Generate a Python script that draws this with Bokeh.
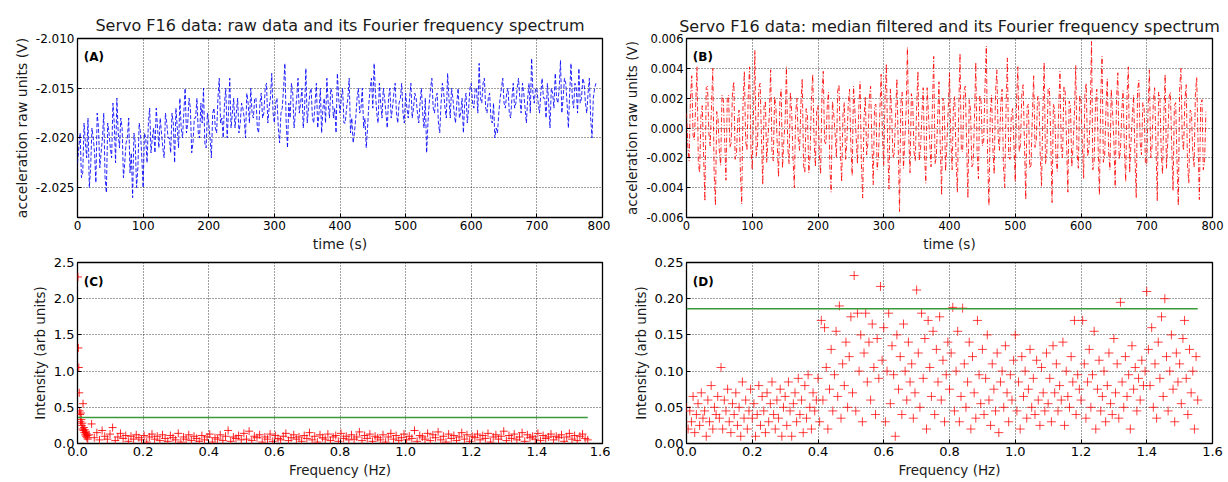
import numpy as np
from bokeh.plotting import figure
from bokeh.layouts import column, row
from bokeh.models import Range1d, FixedTicker, NumeralTickFormatter, Label
from bokeh.embed import file_html
from bokeh.resources import INLINE

FONT = "DejaVu Sans"

# ---------------- data ----------------
time_step = 2.0  # s between plotted samples

# raw signal, samples at t = 0, 4, 8, ... s
raw_signal_even = [
    -2.0225, -2.0195, -2.0235, -2.0205, -2.0180, -2.0230, -2.0200, -2.0245, -2.0190, -2.0215,
    -2.0175, -2.0255, -2.0195, -2.0220, -2.0185, -2.0160, -2.0210, -2.0190, -2.0225, -2.0200,
    -2.0235, -2.0260, -2.0205, -2.0230, -2.0195,
    -2.0250, -2.0200, -2.0185, -2.0215, -2.0190, -2.0170, -2.0210, -2.0195, -2.0220, -2.0185,
    -2.0200, -2.0175, -2.0225, -2.0190, -2.0160, -2.0200, -2.0150, -2.0185, -2.0170, -2.0205,
    -2.0180, -2.0195, -2.0165, -2.0150, -2.0210,
    -2.0185, -2.0220, -2.0170, -2.0195, -2.0140, -2.0180, -2.0165, -2.0200, -2.0140, -2.0175,
    -2.0190, -2.0160, -2.0185, -2.0170, -2.0200, -2.0165, -2.0150, -2.0180, -2.0160, -2.0195,
    -2.0155, -2.0175, -2.0145, -2.0170, -2.0135,
    -2.0185, -2.0160, -2.0205, -2.0170, -2.0125, -2.0210, -2.0180, -2.0155, -2.0175, -2.0140,
    -2.0165, -2.0190, -2.0130, -2.0170, -2.0150, -2.0185, -2.0145, -2.0175, -2.0195, -2.0160,
    -2.0140, -2.0180, -2.0155, -2.0170, -2.0135,
    -2.0175, -2.0150, -2.0185, -2.0160, -2.0195, -2.0205, -2.0180, -2.0150, -2.0170, -2.0190,
    -2.0210, -2.0165, -2.0140, -2.0125, -2.0175, -2.0145, -2.0180, -2.0160, -2.0190, -2.0150,
    -2.0170, -2.0145, -2.0185, -2.0160, -2.0175,
    -2.0155, -2.0180, -2.0145, -2.0170, -2.0160, -2.0185, -2.0150, -2.0190, -2.0215, -2.0165,
    -2.0140, -2.0175, -2.0155, -2.0195, -2.0145, -2.0170, -2.0135, -2.0180, -2.0160, -2.0185,
    -2.0150, -2.0175, -2.0195, -2.0155, -2.0170,
    -2.0145, -2.0170, -2.0150, -2.0125, -2.0165, -2.0140, -2.0175, -2.0155, -2.0185, -2.0200,
    -2.0195, -2.0160, -2.0140, -2.0170, -2.0150, -2.0180, -2.0145, -2.0165, -2.0140, -2.0175,
    -2.0155, -2.0185, -2.0145, -2.0120, -2.0165,
    -2.0150, -2.0175, -2.0140, -2.0160, -2.0145, -2.0190, -2.0155, -2.0135, -2.0165, -2.0122,
    -2.0160, -2.0145, -2.0190, -2.0125, -2.0170, -2.0150, -2.0130, -2.0160, -2.0145, -2.0175,
    -2.0140, -2.0200, -2.0150,
]
# raw signal, samples at t = 2, 6, 10, ... s
raw_signal_odd = [
    -2.0210, -2.0240, -2.0185, -2.0220, -2.0250, -2.0190, -2.0215, -2.0175, -2.0230, -2.0200,
    -2.0240, -2.0185, -2.0210, -2.0165, -2.0225, -2.0195, -2.0180, -2.0240, -2.0205, -2.0180,
    -2.0215, -2.0195, -2.0250, -2.0185, -2.0220,
    -2.0195, -2.0225, -2.0170, -2.0200, -2.0215, -2.0190, -2.0180, -2.0210, -2.0175, -2.0200,
    -2.0215, -2.0185, -2.0170, -2.0210, -2.0190, -2.0175, -2.0195, -2.0160, -2.0215, -2.0180,
    -2.0160, -2.0200, -2.0185, -2.0205, -2.0175,
    -2.0200, -2.0175, -2.0190, -2.0160, -2.0185, -2.0200, -2.0150, -2.0175, -2.0190, -2.0160,
    -2.0175, -2.0195, -2.0165, -2.0180, -2.0155, -2.0185, -2.0175, -2.0160, -2.0190, -2.0165,
    -2.0180, -2.0150, -2.0185, -2.0160, -2.0175,
    -2.0165, -2.0190, -2.0175, -2.0150, -2.0185, -2.0165, -2.0145, -2.0190, -2.0160, -2.0175,
    -2.0150, -2.0170, -2.0185, -2.0155, -2.0180, -2.0165, -2.0190, -2.0150, -2.0170, -2.0185,
    -2.0165, -2.0150, -2.0180, -2.0195, -2.0160,
    -2.0160, -2.0185, -2.0170, -2.0140, -2.0180, -2.0195, -2.0160, -2.0175, -2.0150, -2.0180,
    -2.0190, -2.0150, -2.0170, -2.0155, -2.0185, -2.0165, -2.0150, -2.0175, -2.0160, -2.0180,
    -2.0155, -2.0175, -2.0165, -2.0145, -2.0185,
    -2.0170, -2.0160, -2.0180, -2.0155, -2.0175, -2.0165, -2.0175, -2.0160, -2.0185, -2.0150,
    -2.0170, -2.0160, -2.0185, -2.0165, -2.0155, -2.0180, -2.0160, -2.0150, -2.0175, -2.0165,
    -2.0180, -2.0160, -2.0165, -2.0185, -2.0150,
    -2.0165, -2.0150, -2.0175, -2.0160, -2.0145, -2.0170, -2.0160, -2.0180, -2.0165, -2.0190,
    -2.0175, -2.0150, -2.0165, -2.0155, -2.0175, -2.0160, -2.0170, -2.0150, -2.0160, -2.0145,
    -2.0170, -2.0160, -2.0175, -2.0155, -2.0150,
    -2.0165, -2.0155, -2.0160, -2.0180, -2.0165, -2.0150, -2.0170, -2.0160, -2.0150, -2.0175,
    -2.0140, -2.0165, -2.0155, -2.0160, -2.0145, -2.0175, -2.0165, -2.0140, -2.0165, -2.0155,
    -2.0180, -2.0160, -2.0145,
]

# median-filtered signal, samples at t = 0, 4, 8, ... s
filtered_signal_even = [
    0.0010, -0.0022, 0.0035, -0.0008, 0.0041, -0.0030, 0.0015, -0.0049, 0.0028, -0.0012,
    0.0040, -0.0052, 0.0006, -0.0025, 0.0019, -0.0035, 0.0022, -0.0010, 0.0031, -0.0018,
    0.0012, -0.0051, 0.0038, -0.0015, 0.0041,
    -0.0028, 0.0052, -0.0012, 0.0030, -0.0038, 0.0018, -0.0006, 0.0039, -0.0022, 0.0014,
    -0.0033, 0.0026, -0.0009, 0.0041, -0.0024, 0.0011, -0.0040, 0.0020, -0.0015, 0.0033,
    -0.0030, 0.0008, -0.0018, 0.0036, -0.0026,
    0.0015, -0.0031, 0.0038, -0.0011, 0.0024, -0.0043, 0.0009, -0.0020, 0.0029, -0.0036,
    0.0017, -0.0008, 0.0026, -0.0032, 0.0013, -0.0024, 0.0031, -0.0047, 0.0021, -0.0010,
    0.0028, -0.0038, 0.0016, -0.0019, 0.0036,
    -0.0025, 0.0043, -0.0041, 0.0012, -0.0017, 0.0033, -0.0056, 0.0024, -0.0009, 0.0054,
    -0.0030, 0.0018, -0.0022, 0.0038, -0.0014, 0.0027, -0.0037, 0.0010, -0.0026, 0.0048,
    -0.0019, 0.0031, -0.0045, 0.0016, -0.0011,
    0.0037, -0.0028, 0.0021, -0.0043, 0.0050, -0.0016, 0.0028, -0.0047, 0.0012, -0.0024,
    0.0044, -0.0034, 0.0018, -0.0009, 0.0055, -0.0052, 0.0022, -0.0031, 0.0039, -0.0015,
    0.0026, -0.0040, 0.0047, -0.0021, 0.0013,
    -0.0036, 0.0041, -0.0011, 0.0029, -0.0048, 0.0016, -0.0025, 0.0035, -0.0008, 0.0021,
    -0.0039, 0.0044, -0.0017, 0.0027, -0.0050, 0.0012, -0.0029, 0.0038, -0.0020, 0.0024,
    -0.0043, 0.0015, -0.0012, 0.0042, -0.0027,
    0.0018, -0.0034, 0.0030, -0.0014, 0.0058, -0.0022, 0.0026, -0.0045, 0.0048, -0.0019,
    0.0033, -0.0028, 0.0011, -0.0040, 0.0037, -0.0016, 0.0025, -0.0036, 0.0041, -0.0010,
    0.0022, -0.0047, 0.0032, -0.0018, 0.0014,
    -0.0025, 0.0039, -0.0013, 0.0027, -0.0049, 0.0021, -0.0031, 0.0036, -0.0009, 0.0024,
    -0.0042, 0.0017, -0.0052, 0.0040, -0.0015, 0.0029, -0.0037, 0.0011, -0.0026, 0.0034,
    -0.0048, 0.0019, -0.0022,
]
# median-filtered signal, samples at t = 2, 6, 10, ... s
filtered_signal_odd = [
    -0.0012, 0.0020, -0.0005, 0.0016, -0.0024, 0.0008, -0.0018, 0.0027, -0.0003, 0.0014,
    -0.0029, 0.0011, -0.0016, 0.0022, -0.0007, 0.0019, -0.0013, 0.0025, -0.0021, 0.0006,
    -0.0030, 0.0017, -0.0009, 0.0023, -0.0014,
    0.0012, -0.0019, 0.0027, -0.0006, 0.0015, -0.0023, 0.0009, -0.0016, 0.0021, -0.0011,
    0.0018, -0.0027, 0.0005, -0.0013, 0.0024, -0.0020, 0.0010, -0.0008, 0.0016, -0.0025,
    0.0013, -0.0030, 0.0019, -0.0007, 0.0011,
    -0.0017, 0.0022, -0.0009, 0.0014, -0.0026, 0.0018, -0.0004, 0.0025, -0.0015, 0.0009,
    -0.0021, 0.0016, -0.0012, 0.0028, -0.0006, 0.0013, -0.0024, 0.0007, -0.0018, 0.0020,
    -0.0011, 0.0015, -0.0028, 0.0010, -0.0005,
    0.0021, -0.0014, 0.0026, -0.0020, 0.0008, -0.0012, 0.0017, -0.0027, 0.0011, -0.0005,
    0.0023, -0.0016, 0.0014, -0.0022, 0.0009, -0.0018, 0.0027, -0.0010, 0.0015, -0.0024,
    0.0006, -0.0013, 0.0020, -0.0029, 0.0012,
    -0.0008, 0.0016, -0.0022, 0.0011, -0.0015, 0.0025, -0.0009, 0.0019, -0.0026, 0.0007,
    -0.0017, 0.0022, -0.0012, 0.0028, -0.0020, 0.0010, -0.0014, 0.0024, -0.0006, 0.0017,
    -0.0025, 0.0013, -0.0019, 0.0009, -0.0011,
    0.0019, -0.0016, 0.0023, -0.0010, 0.0014, -0.0027, 0.0008, -0.0013, 0.0021, -0.0018,
    0.0011, -0.0024, 0.0026, -0.0007, 0.0016, -0.0021, 0.0012, -0.0015, 0.0028, -0.0009,
    0.0018, -0.0026, 0.0010, -0.0017, 0.0022,
    -0.0011, 0.0024, -0.0019, 0.0009, -0.0028, 0.0015, -0.0012, 0.0020, -0.0023, 0.0013,
    -0.0016, 0.0026, -0.0008, 0.0019, -0.0021, 0.0011, -0.0014, 0.0022, -0.0030, 0.0007,
    -0.0018, 0.0025, -0.0010, 0.0017, -0.0024,
    0.0013, -0.0020, 0.0018, -0.0011, 0.0024, -0.0016, 0.0009, -0.0027, 0.0021, -0.0013,
    0.0015, -0.0022, 0.0026, -0.0008, 0.0019, -0.0025, 0.0012, -0.0017, 0.0023, -0.0010,
    0.0016, -0.0028, 0.0011,
]

# spectrum of the raw data: low-frequency part
raw_spec_freq_low = [0.0013, 0.0026, 0.0039, 0.0052, 0.0065, 0.0078, 0.0091, 0.0104,
                     0.0117, 0.0130, 0.0143, 0.0156, 0.0169, 0.0182, 0.0195, 0.0208,
                     0.0221, 0.0234, 0.0247, 0.0260, 0.0273, 0.0286, 0.0299, 0.0312]
raw_spec_int_low = [2.30, 1.32, 1.05, 0.70, 0.45, 0.40, 0.30, 0.42, 0.33, 0.25, 0.28, 0.20,
                    0.55, 0.18, 0.22, 0.15, 0.19, 0.12, 0.16, 0.10, 0.14, 0.08, 0.11, 0.06]
# rest of the spectrum, from 0.035 Hz in 0.008 Hz steps
raw_spec_start, raw_spec_step = 0.035, 0.008
raw_spec_int_high = [
    0.12, 0.27, 0.08, 0.15, 0.05, 0.18, 0.10, 0.06, 0.13, 0.22, 0.04, 0.09, 0.14, 0.07, 0.11, 0.03, 0.10, 0.06, 0.12, 0.08,
    0.05, 0.11, 0.02, 0.09, 0.13, 0.06, 0.10, 0.04, 0.12, 0.07, 0.03, 0.11, 0.08, 0.05, 0.14, 0.02, 0.09, 0.06, 0.12, 0.04,
    0.10, 0.07, 0.03, 0.11, 0.05, 0.09, 0.13, 0.02, 0.08, 0.06, 0.12, 0.04, 0.10, 0.18, 0.03, 0.09, 0.07, 0.11, 0.05, 0.14,
    0.06, 0.17, 0.04, 0.10, 0.08, 0.12, 0.02, 0.09, 0.06, 0.13, 0.03, 0.11, 0.07, 0.05, 0.10, 0.14, 0.04, 0.08, 0.12, 0.06,
    0.09, 0.03, 0.11, 0.07, 0.15, 0.05, 0.10, 0.02, 0.12, 0.08, 0.06, 0.13, 0.04, 0.09, 0.11, 0.03, 0.14, 0.07, 0.10, 0.05,
    0.12, 0.06, 0.09, 0.16, 0.04, 0.11, 0.07, 0.13, 0.03, 0.10, 0.08, 0.05, 0.12, 0.02, 0.09, 0.14, 0.06, 0.11, 0.04, 0.08,
    0.13, 0.05, 0.10, 0.07, 0.18, 0.03, 0.11, 0.09, 0.06, 0.14, 0.04, 0.12, 0.08, 0.16, 0.05, 0.10, 0.02, 0.13, 0.07, 0.11,
    0.04, 0.09, 0.15, 0.06, 0.12, 0.03, 0.10, 0.08, 0.13, 0.05, 0.11, 0.07, 0.14, 0.02, 0.09, 0.12, 0.06, 0.10, 0.17, 0.04,
    0.11, 0.07, 0.13, 0.05, 0.09, 0.15, 0.03, 0.12, 0.08, 0.10, 0.06, 0.14, 0.04, 0.11, 0.07, 0.09, 0.13, 0.05, 0.10, 0.08,
    0.12, 0.03, 0.09, 0.14, 0.06, 0.11, 0.04, 0.10, 0.13, 0.07, 0.05,
]
raw_threshold = 0.36

# spectrum of the median-filtered data, 0.005 Hz steps
filt_spec_step = 0.005
filt_spec_int = [
    0.05, 0.02, 0.045, 0.03, 0.065, 0.015, 0.04, 0.055, 0.025, 0.07, 0.035, 0.045, 0.01, 0.06, 0.03, 0.08, 0.02, 0.05, 0.04, 0.065,
    0.035, 0.105, 0.02, 0.06, 0.045, 0.075, 0.03, 0.015, 0.055, 0.04, 0.07, 0.025, 0.05, 0.01, 0.085, 0.035, 0.06, 0.02, 0.045, 0.075,
    0.035, 0.055, 0.01, 0.04, 0.08, 0.025, 0.065, 0.045, 0.015, 0.07, 0.03, 0.055, 0.085, 0.04, 0.02, 0.06, 0.035, 0.075, 0.01, 0.05,
    0.065, 0.025, 0.085, 0.045, 0.01, 0.055, 0.07, 0.03, 0.09, 0.04, 0.06, 0.015, 0.08, 0.035, 0.095, 0.05, 0.02, 0.07, 0.045, 0.06,
    0.09, 0.03, 0.17, 0.06, 0.16, 0.105, 0.02, 0.075, 0.13, 0.045, 0.095, 0.155, 0.065, 0.19, 0.035, 0.11, 0.08, 0.14, 0.05, 0.12,
    0.175, 0.07, 0.232, 0.045, 0.18, 0.1, 0.15, 0.03, 0.125, 0.18, 0.085, 0.14, 0.06, 0.165, 0.105, 0.04, 0.145, 0.09, 0.217, 0.115,
    0.16, 0.03, 0.1, 0.18, 0.055, 0.135, 0.095, 0.01, 0.15, 0.075, 0.12, 0.04, 0.165, 0.1, 0.06, 0.14, 0.085, 0.11, 0.035, 0.07,
    0.212, 0.125, 0.05, 0.18, 0.09, 0.145, 0.02, 0.17, 0.105, 0.065, 0.155, 0.04, 0.13, 0.085, 0.175, 0.06, 0.115, 0.03, 0.095, 0.14,
    0.075, 0.125, 0.188, 0.045, 0.1, 0.155, 0.03, 0.065, 0.187, 0.11, 0.05, 0.085, 0.14, 0.02, 0.12, 0.07, 0.035, 0.17, 0.095, 0.055,
    0.13, 0.04, 0.09, 0.15, 0.06, 0.025, 0.11, 0.075, 0.045, 0.125, 0.015, 0.085, 0.1, 0.05, 0.135, 0.07, 0.03, 0.095, 0.06, 0.115,
    0.15, 0.045, 0.085, 0.02, 0.12, 0.065, 0.1, 0.035, 0.075, 0.13, 0.05, 0.09, 0.04, 0.115, 0.06, 0.025, 0.105, 0.07, 0.045, 0.125,
    0.055, 0.09, 0.03, 0.135, 0.07, 0.11, 0.045, 0.08, 0.06, 0.14, 0.025, 0.1, 0.065, 0.05, 0.12, 0.085, 0.17, 0.04, 0.095, 0.075,
    0.06, 0.17, 0.11, 0.035, 0.085, 0.13, 0.05, 0.095, 0.155, 0.02, 0.075, 0.115, 0.045, 0.065, 0.1, 0.03, 0.08, 0.125, 0.055, 0.04,
    0.145, 0.07, 0.11, 0.035, 0.195, 0.085, 0.05, 0.12, 0.065, 0.095, 0.02, 0.135, 0.075, 0.105, 0.045, 0.09, 0.06, 0.115, 0.08, 0.1,
    0.21, 0.13, 0.08, 0.16, 0.05, 0.11, 0.035, 0.14, 0.09, 0.175, 0.065, 0.2, 0.12, 0.045, 0.1, 0.15, 0.075, 0.03, 0.125, 0.085,
    0.11, 0.055, 0.145, 0.17, 0.09, 0.04, 0.13, 0.07, 0.1, 0.02, 0.12, 0.06,
]
filt_threshold = 0.186

titles = ["Servo F16 data: raw data and its Fourier frequency spectrum",
          "Servo F16 data: median filtered and its Fourier frequency spectrum"]
panel_tags = ["(A)", "(B)", "(C)", "(D)"]
time_ticks = [0, 100, 200, 300, 400, 500, 600, 700, 800]
raw_ticks = [-2.025, -2.020, -2.015, -2.010]
filt_ticks = [-0.006, -0.004, -0.002, 0.0, 0.002, 0.004, 0.006]
freq_ticks = [0.0, 0.2, 0.4, 0.6, 0.8, 1.0, 1.2, 1.4, 1.6]
raw_spec_ticks = [0.0, 0.5, 1.0, 1.5, 2.0, 2.5]
filt_spec_ticks = [0.0, 0.05, 0.10, 0.15, 0.20, 0.25]


def interleave(a, b):
    out = np.empty(len(a) + len(b))
    out[0::2] = a
    out[1::2] = b
    return out


raw_signal = interleave(raw_signal_even, raw_signal_odd)
filtered_signal = interleave(filtered_signal_even, filtered_signal_odd)
raw_time = np.arange(len(raw_signal)) * time_step
filt_time = np.arange(len(filtered_signal)) * time_step
raw_spec_freq = np.concatenate([raw_spec_freq_low,
                                raw_spec_start + np.arange(len(raw_spec_int_high)) * raw_spec_step])
raw_spec_int = np.concatenate([raw_spec_int_low, raw_spec_int_high])
filt_spec_freq = np.arange(len(filt_spec_int)) * filt_spec_step


def make_fig(w, h, bl, br, bt, bb, xr, yr, xt, yt, xfmt, yfmt, xlabel, ylabel,
             tick_fs, label_fs, tag, title=None, title_standoff=4):
    p = figure(width=w, height=h, x_range=Range1d(*xr), y_range=Range1d(*yr),
               output_backend="svg", toolbar_location=None,
               min_border_left=bl, min_border_right=br, min_border_top=bt, min_border_bottom=bb,
               background_fill_color="white", border_fill_color="white")
    if title:
        p.title.text = title
        p.title.align = "center"
        p.title.text_font = FONT
        p.title.text_font_size = "16px"
        p.title.text_font_style = "normal"
        p.title.text_color = "#1a1a1a"
        p.title.standoff = title_standoff
    p.outline_line_color = "black"
    p.outline_line_width = 1.3
    p.outline_line_alpha = 1
    xtk = FixedTicker(ticks=xt)
    ytk = FixedTicker(ticks=yt)
    p.xaxis.ticker = xtk
    p.yaxis.ticker = ytk
    p.xgrid.ticker = xtk
    p.ygrid.ticker = ytk
    p.xaxis.formatter = NumeralTickFormatter(format=xfmt)
    p.yaxis.formatter = NumeralTickFormatter(format=yfmt)
    for ax in (p.xaxis, p.yaxis):
        ax.axis_line_color = None
        ax.major_tick_in = 4
        ax.major_tick_out = 0
        ax.minor_tick_line_color = None
        ax.major_tick_line_color = "black"
        ax.major_label_text_font = FONT
        ax.major_label_text_font_size = tick_fs
        ax.major_label_text_color = "black"
        ax.axis_label_text_font = FONT
        ax.axis_label_text_font_size = label_fs
        ax.axis_label_text_font_style = "normal"
        ax.axis_label_text_color = "#1a1a1a"
        ax.major_label_standoff = 3
        ax.axis_label_standoff = 3
    p.xaxis.axis_label = xlabel
    p.yaxis.axis_label = ylabel
    for g in (p.xgrid, p.ygrid):
        g.grid_line_color = "black"
        g.grid_line_dash = "1 2"
        g.grid_line_alpha = 0.75
        g.grid_line_width = 1
    x0, x1 = xr
    y0, y1 = yr
    p.add_layout(Label(x=x0 + 0.012 * (x1 - x0), y=y1 - 0.105 * (y1 - y0), text=tag,
                       text_font=FONT, text_font_size="12px", text_font_style="bold",
                       text_baseline="middle", text_color="black"))
    return p


pA = make_fig(610, 254, 77, 8, 34, 34, (0, 800), (-2.028, -2.010), time_ticks, raw_ticks,
              "0", "0.000", "time (s)", "acceleration raw units (V)", "12px", "14px",
              panel_tags[0], titles[0], title_standoff=8)
pA.line(raw_time, raw_signal, line_color="blue", line_width=1, line_dash="4 2", line_alpha=0.85)

pB = make_fig(618, 254, 76, 16, 38, 31, (0, 800), (-0.006, 0.006), time_ticks, filt_ticks,
              "0", "0.000", "time (s)", "acceleration raw units (V)", "11.5px", "13.5px",
              panel_tags[1], titles[1], title_standoff=5)
pB.line(filt_time, filtered_signal, line_color="red", line_width=1, line_dash="5 2 1 2", line_alpha=0.85)

pC = make_fig(610, 228, 77, 8, 3, 39, (0, 1.6), (0, 2.5), freq_ticks, raw_spec_ticks,
              "0.0", "0.0", "Frequency (Hz)", "Intensity (arb units)", "13px", "13.5px",
              panel_tags[2])
pC.scatter(raw_spec_freq, raw_spec_int, marker="cross", size=8, line_color="red",
           line_width=1, line_alpha=0.85)
pC.line([raw_spec_freq[0], raw_spec_freq[-1]], [raw_threshold, raw_threshold],
        line_color="#3a9a3a", line_width=1.5)

pD = make_fig(618, 228, 76, 16, 8, 34, (0, 1.6), (0, 0.25), freq_ticks, filt_spec_ticks,
              "0.0", "0.00", "Frequency (Hz)", "Intensity (arb units)", "13px", "13.5px",
              panel_tags[3])
pD.scatter(filt_spec_freq, filt_spec_int, marker="cross", size=9, line_color="red",
           line_width=1, line_alpha=0.75)
pD.line([filt_spec_freq[0], filt_spec_freq[-1]], [filt_threshold, filt_threshold],
        line_color="#3a9a3a", line_width=1.5)

layout = column(row(pA, pB, spacing=0), row(pC, pD, spacing=0), spacing=0)
open("out.html", "w").write(file_html(layout, INLINE))
